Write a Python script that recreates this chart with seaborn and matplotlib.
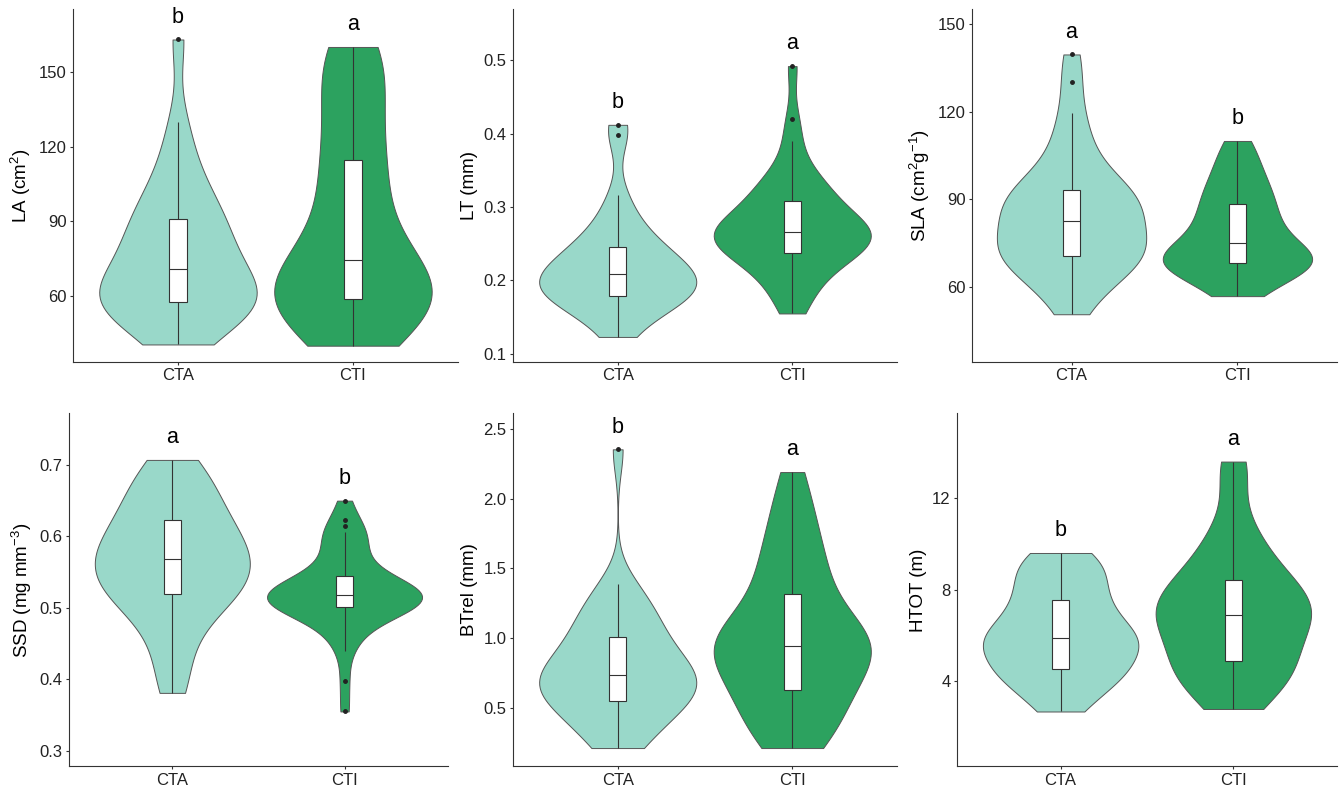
import matplotlib
matplotlib.use("Agg")
import matplotlib.pyplot as plt
import seaborn as sns
import pandas as pd

groups = ["CTA", "CTI"]
palette = {"CTA": "#99d8c9", "CTI": "#2ca25f"}

la_cta = [40.5, 44, 48, 51, 54, 55, 56, 57, 58, 59, 60, 61, 63, 65, 68, 71, 73, 75, 78, 81,
          84, 87, 90, 92, 95, 99, 104, 110, 118, 130, 163]
la_cti = [40, 44, 48, 51, 53, 55, 57, 58.5, 60, 62, 63, 64, 66, 69, 73, 76, 80, 86, 93, 100,
          107, 113, 115, 125, 133, 141, 148, 154, 158, 160]
la_letters = ["b", "a"]

lt_cta = [0.123, 0.14, 0.155, 0.165, 0.17, 0.175, 0.177, 0.178, 0.183, 0.187, 0.19, 0.193,
          0.197, 0.2, 0.207, 0.211, 0.213, 0.215, 0.22, 0.225, 0.232, 0.24, 0.248, 0.25,
          0.26, 0.275, 0.29, 0.316, 0.398, 0.412]
lt_cti = [0.155, 0.17, 0.185, 0.195, 0.205, 0.215, 0.222, 0.228, 0.233, 0.236, 0.239, 0.243,
          0.247, 0.25, 0.254, 0.257, 0.26, 0.262, 0.264, 0.266, 0.268, 0.27, 0.273, 0.276,
          0.28, 0.284, 0.288, 0.298, 0.306, 0.31, 0.315, 0.322, 0.326, 0.335, 0.345, 0.36,
          0.39, 0.42, 0.492]
lt_letters = ["b", "a"]

sla_cta = [50.7, 56, 60, 63, 65, 67, 68.5, 69.5, 70.5, 71, 72, 73, 74, 75, 77, 79, 81, 82.6,
           84, 86, 87.5, 88.5, 89.5, 90.5, 91.5, 92.5, 94, 96, 99, 103, 108, 113, 119.4,
           130.3, 139.6]
sla_cti = [56.9, 59, 61, 63, 64.5, 65.5, 66.5, 67.2, 67.9, 68.5, 69, 69.5, 70, 70.5, 71, 71.5,
           72.5, 75.1, 76, 77.5, 79, 80.5, 82, 84, 86, 87.3, 89.3, 91, 93, 95, 97.5, 100,
           103, 107, 110]
sla_letters = ["a", "b"]

ssd_cta = [0.381, 0.42, 0.455, 0.48, 0.5, 0.51, 0.52, 0.525, 0.535, 0.545, 0.55, 0.558,
           0.568, 0.575, 0.582, 0.59, 0.598, 0.61, 0.623, 0.63, 0.645, 0.66, 0.675, 0.69,
           0.707]
ssd_cti = [0.355, 0.398, 0.44, 0.455, 0.468, 0.478, 0.485, 0.49, 0.494, 0.497, 0.5, 0.502,
           0.504, 0.506, 0.508, 0.51, 0.511, 0.512, 0.513, 0.515, 0.517, 0.519, 0.521,
           0.523, 0.525, 0.527, 0.529, 0.532, 0.535, 0.538, 0.541, 0.546, 0.555, 0.565,
           0.575, 0.585, 0.595, 0.6, 0.606, 0.615, 0.623, 0.65]
ssd_letters = ["a", "b"]

bt_cta = [0.212, 0.25, 0.3, 0.36, 0.42, 0.47, 0.5, 0.53, 0.545, 0.56, 0.59, 0.62, 0.65, 0.67,
          0.69, 0.71, 0.725, 0.74, 0.76, 0.79, 0.82, 0.85, 0.89, 0.93, 0.98, 1.019, 1.05,
          1.1, 1.15, 1.2, 1.26, 1.32, 1.389, 2.353]
bt_cti = [0.212, 0.25, 0.3, 0.35, 0.42, 0.5, 0.56, 0.6, 0.621, 0.66, 0.72, 0.78, 0.83, 0.87,
          0.9, 0.92, 0.931, 0.95, 0.98, 1.0, 1.03, 1.07, 1.12, 1.18, 1.25, 1.339, 1.4, 1.48,
          1.56, 1.65, 1.75, 1.87, 2.0, 2.19]
bt_letters = ["b", "a"]

h_cta = [2.69, 3.1, 3.5, 3.9, 4.2, 4.3, 4.4, 4.5, 4.7, 5.1, 5.3, 5.45, 5.6, 5.75, 5.85, 5.95,
         6.1, 6.3, 6.5, 6.8, 7.1, 7.4, 7.59, 7.9, 8.3, 8.6, 8.9, 9.2, 9.4, 9.61]
h_cti = [2.8, 3.2, 3.6, 4.0, 4.3, 4.55, 4.7, 4.8, 5.1, 5.5, 5.9, 6.2, 6.5, 6.7, 6.85, 6.95,
         7.1, 7.3, 7.5, 7.7, 7.95, 8.2, 8.5, 8.8, 9.2, 9.7, 10.3, 11.0, 13.0, 13.6]
h_letters = ["b", "a"]

sns.set_style("ticks")
plt.rcParams["font.family"] = ["Liberation Sans", "DejaVu Sans"]
plt.rcParams["mathtext.default"] = "regular"

fig = plt.figure(figsize=(13.39, 7.91), dpi=100)

# (cta, cti, letters, ylabel, yticks, ylim, axes rect)
panels = [
    (la_cta, la_cti, la_letters, "LA (cm$^{2}$)", [60, 90, 120, 150], (33.5, 175.3),
     [0.0545, 0.5425, 0.2875, 0.4463]),
    (lt_cta, lt_cti, lt_letters, "LT (mm)", [0.1, 0.2, 0.3, 0.4, 0.5], (0.089, 0.57),
     [0.3831, 0.5425, 0.2868, 0.4463]),
    (sla_cta, sla_cti, sla_letters, "SLA (cm$^{2}$g$^{-1}$)", [60, 90, 120, 150], (34.4, 155.2),
     [0.7259, 0.5425, 0.2726, 0.4463]),
    (ssd_cta, ssd_cti, ssd_letters, "SSD (mg mm$^{-3}$)", [0.3, 0.4, 0.5, 0.6, 0.7], (0.278, 0.772),
     [0.0515, 0.031, 0.2830, 0.4463]),
    (bt_cta, bt_cti, bt_letters, "BTrel (mm)", [0.5, 1.0, 1.5, 2.0, 2.5], (0.08, 2.61),
     [0.3831, 0.031, 0.2868, 0.4463]),
    (h_cta, h_cti, h_letters, "HTOT (m)", [4, 8, 12], (0.29, 15.7),
     [0.7147, 0.031, 0.2838, 0.4463]),
]

for cta, cti, letters, ylabel, yticks, ylim, rect in panels:
    ax = fig.add_axes(rect)
    df = pd.DataFrame({"group": ["CTA"] * len(cta) + ["CTI"] * len(cti),
                       "value": cta + cti})

    sns.violinplot(data=df, x="group", y="value", hue="group", palette=palette,
                   order=groups, hue_order=groups, cut=0, inner=None,
                   density_norm="area", width=0.9, linewidth=0.7, linecolor="#555555",
                   saturation=1, bw_adjust=0.85, legend=False, ax=ax)
    sns.boxplot(data=df, x="group", y="value", order=groups, width=0.1, color="white",
                linecolor="#333333", linewidth=0.8, saturation=1, fliersize=2.5,
                flierprops=dict(marker="o", markerfacecolor="#222222",
                                markeredgecolor="#222222"),
                showcaps=False, ax=ax)

    for i, vals in enumerate([cta, cti]):
        ax.annotate(letters[i], xy=(i, max(vals)), xytext=(0, 16),
                    textcoords="offset points", ha="center", va="center", fontsize=15.5,
                    color="black")

    ax.set_xlim(-0.6, 1.6)
    ax.set_ylim(*ylim)
    ax.set_yticks(yticks)
    ax.set_xlabel("")
    ax.set_ylabel(ylabel, fontsize=13.5, color="black")
    for s in ["top", "right"]:
        ax.spines[s].set_visible(False)
    for s in ["left", "bottom"]:
        ax.spines[s].set_color("#333333")
        ax.spines[s].set_linewidth(0.8)
    ax.tick_params(length=2.5, width=0.8, color="#333333", labelsize=12,
                   labelcolor="#222222", pad=2)

fig.savefig("out.png", dpi=100)
